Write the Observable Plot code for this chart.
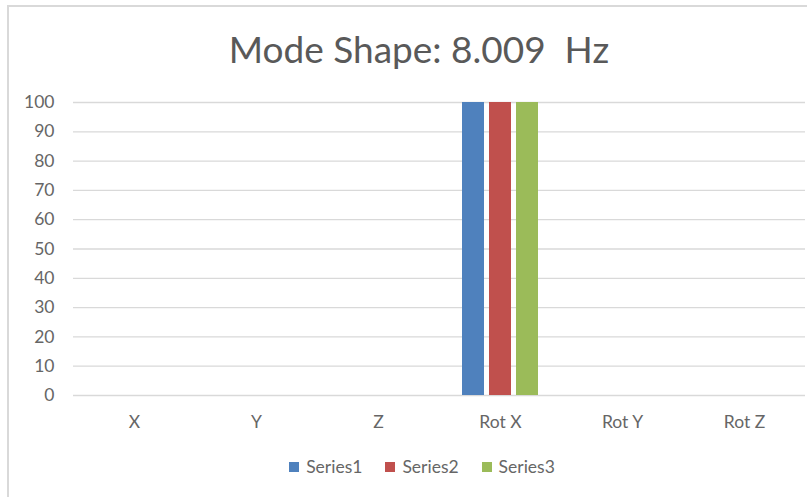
<!DOCTYPE html>
<html>
<head>
<meta charset="utf-8">
<script src="https://cdn.jsdelivr.net/npm/d3@7"></script>
<script src="https://cdn.jsdelivr.net/npm/@observablehq/plot@0.6"></script>
<style>
  html, body { margin: 0; padding: 0; background: #fff; }
  body { width: 807px; height: 497px; position: relative; overflow: hidden; font-family: Lato, "Open Sans", sans-serif; }
  #frame { position: absolute; left: 7px; top: 5px; width: 810px; height: 500px; border-left: 2px solid #d9d9d9; border-top: 2px solid #d9d9d9; }
  #title { position: absolute; left: 0; top: 26px; width: 838px; text-align: center; font-size: 37px; color: #595959; white-space: pre; }
  #chart { position: absolute; left: 0; top: 90px; }
  #legend { position: absolute; top: 456px; left: 0; width: 844px; display: flex; justify-content: center; gap: 23px; font-size: 17.5px; color: #666; }
  #legend span.item { display: inline-flex; align-items: center; gap: 7px; }
  #legend span.sw { display: inline-block; width: 10px; height: 10px; }
</style>
</head>
<body>
<div id="frame"></div>
<div id="title">Mode Shape: 8.009  Hz</div>
<div id="chart"></div>
<div id="legend"></div>
<script>
const categories = ["X", "Y", "Z", "Rot X", "Rot Y", "Rot Z"];
const seriesNames = ["Series1", "Series2", "Series3"];
const series1 = [0, 0, 0, 100, 0, 0];
const series2 = [0, 0, 0, 100, 0, 0];
const series3 = [0, 0, 0, 100, 0, 0];
const colors = ["#4f81bd", "#c0504d", "#9bbb59"];
const yTicks = [0, 10, 20, 30, 40, 50, 60, 70, 80, 90, 100];

const allSeries = [series1, series2, series3];
const data = [];
categories.forEach((c, i) => {
  seriesNames.forEach((s, j) => data.push({cat: c, series: s, value: allSeries[j][i]}));
});

const plot = Plot.plot({
  width: 807,
  height: 350,
  marginLeft: 72,
  marginRight: 2,
  marginTop: 12,
  marginBottom: 45,
  style: {fontFamily: "Lato, 'Open Sans', sans-serif", fontSize: "17.5px", color: "#666", background: "transparent"},
  fx: {domain: categories, padding: 0, label: null, axis: "bottom", tickSize: 0, tickPadding: 20},
  x: {domain: seriesNames, paddingInner: 0.2, paddingOuter: 0.82, axis: null},
  y: {domain: [0, 100], ticks: yTicks, tickSize: 0, tickPadding: 19, label: null},
  color: {domain: seriesNames, range: colors},
  marks: [
    Plot.ruleY(yTicks, {stroke: "#d9d9d9", strokeWidth: 1.3}),
    Plot.barY(data, {fx: "cat", x: "series", y: "value", fill: "series"})
  ]
});
document.getElementById("chart").appendChild(plot);

const legend = document.getElementById("legend");
seriesNames.forEach((s, i) => {
  const item = document.createElement("span");
  item.className = "item";
  const sw = document.createElement("span");
  sw.className = "sw";
  sw.style.background = colors[i];
  item.appendChild(sw);
  item.appendChild(document.createTextNode(s));
  legend.appendChild(item);
});
</script>
</body>
</html>
